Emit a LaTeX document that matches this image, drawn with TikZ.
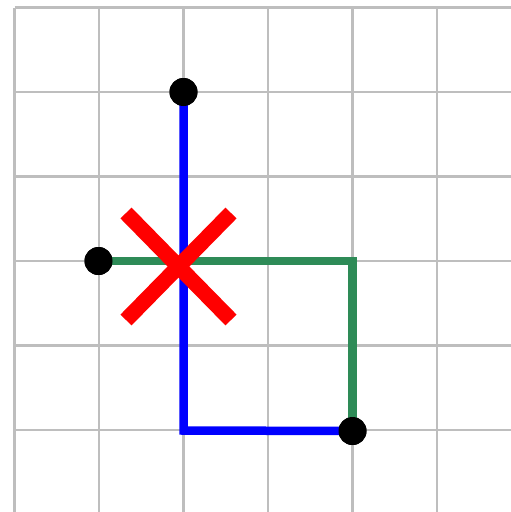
\documentclass[tikz,border=0pt]{standalone}
\begin{document}
\begin{tikzpicture}[x=1pt,y=-1pt,
  gridline/.style={draw={rgb,255:red,190;green,190;blue,190},line width=2.5pt},
  bluepath/.style={draw={rgb,255:red,0;green,0;blue,255},line width=8.5pt},
  greenpath/.style={draw={rgb,255:red,46;green,139;blue,87},line width=8.5pt},
  crossline/.style={draw={rgb,255:red,255;green,0;blue,0},line width=15.5pt},
  dot/.style={circle,fill=black,inner sep=0pt,minimum size=28pt}]
\useasboundingbox (0,0) rectangle (511,512);
\begin{scope}
\clip (0,0) rectangle (511,512);
\foreach \k in {0,...,6}{
  \draw[gridline] ({14.5+84.5*\k},7.5) -- ({14.5+84.5*\k},520);
  \draw[gridline] (14.5,{7.5+84.5*\k}) -- (520,{7.5+84.5*\k});
}
\end{scope}
\coordinate (bc) at (183.5,430.5);
\coordinate (gc) at (352.5,261);
\node[dot] (top) at (183.5,92) {};
\node[dot] (left) at (98.5,261) {};
\node[dot] (br) at (352.5,431) {};
\draw[bluepath] (top.center) -- (bc) -- (br.center);
\draw[greenpath] (left.center) -- (gc) -- (br.center);
\coordinate (x1) at (126,213);
\coordinate (x2) at (231,320);
\coordinate (x3) at (231,213);
\coordinate (x4) at (126,320);
\draw[crossline] (x1) -- (x2);
\draw[crossline] (x3) -- (x4);
\node[dot] at (top) {};
\node[dot] at (left) {};
\node[dot] at (br) {};
\end{tikzpicture}
\end{document}
